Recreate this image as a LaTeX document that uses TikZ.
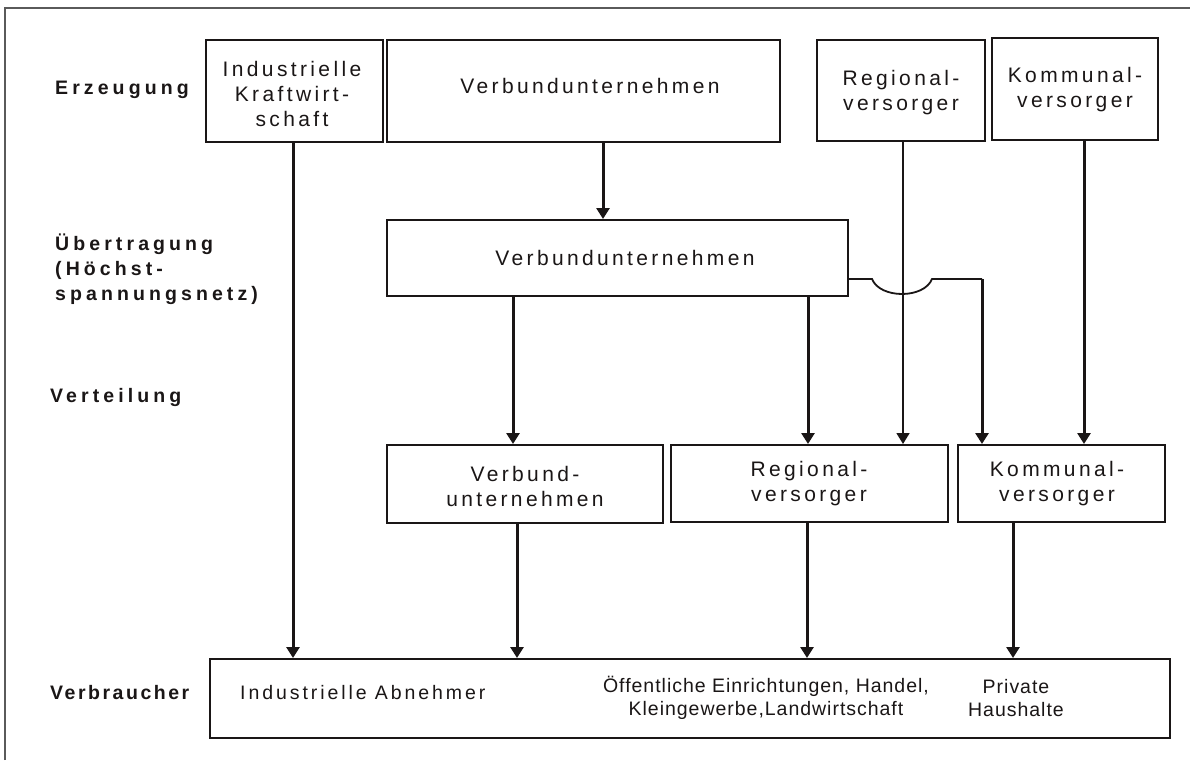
\documentclass[tikz,border=0pt]{standalone}
\usepackage{fontspec}
\setmainfont{Liberation Sans}
\newfontfamily\boxfont[LetterSpace=16]{Liberation Sans}
\newfontfamily\indfont[LetterSpace=15]{Liberation Sans}
\newfontfamily\consfont[LetterSpace=5]{Liberation Sans}
\newfontfamily\lblfont[LetterSpace=21]{Liberation Sans}
\newfontfamily\vbrfont[LetterSpace=13]{Liberation Sans}
\usetikzlibrary{arrows.meta}
\definecolor{ink}{HTML}{1A1616}
\definecolor{framecol}{HTML}{5A5A5A}
\begin{document}
\begin{tikzpicture}[x=1pt,y=-1pt,
  box/.style={draw=ink, line width=2pt, inner sep=0pt},
  btext/.style={inner sep=0pt, align=center, text=ink,
    font=\boxfont\fontsize{21}{25}\selectfont},
  lbl/.style={anchor=west, inner sep=0pt, align=left, text=ink,
    font=\lblfont\bfseries\fontsize{19.5}{25}\selectfont},
  cons/.style={inner sep=0pt, align=center, text=ink,
    font=\consfont\fontsize{19.5}{23.5}\selectfont},
  flow/.style={draw=ink, line width=3pt, -{Triangle[width=13pt,length=11pt]}},
  thinflow/.style={draw=ink, line width=1.6pt, -{Triangle[width=13pt,length=11pt]}},
  jump/.style={draw=ink, line width=1.8pt}
]
\useasboundingbox (0,0) rectangle (1190,760);
\fill[white] (0,0) rectangle (1190,760);
% frame
\draw[framecol, line width=1.5pt] (5,760) -- (5,8) -- (1190,8);

% row labels
\node[lbl] (lErz) at (55,90) {Erzeugung};
\node[lbl] (lUeb) at (55,269) {Übertragung\\(Höchst-\\spannungsnetz)};
\node[lbl] (lVer) at (50,397) {Verteilung};
\node[lbl, font=\vbrfont\bfseries\fontsize{19.5}{25}\selectfont] (lVbr) at (50,693) {Verbraucher};

% Erzeugung
\node[box, minimum width=177pt, minimum height=102pt] (IK) at (294.5,91) {};
\node[btext] (tIK) at (292,94) {Industrielle\\Kraftwirt-\\schaft};
\node[box, minimum width=393pt, minimum height=102pt] (VT) at (583.5,91) {};
\node[btext] (tVT) at (590,86) {Verbundunternehmen};
\node[box, minimum width=168pt, minimum height=101pt] (RT) at (901,90.5) {};
\node[btext] (tRT) at (901,93) {Regional-\\versorger};
\node[box, minimum width=166pt, minimum height=102pt] (KT) at (1075,89) {};
\node[btext] (tKT) at (1075,90) {Kommunal-\\versorger};

% Uebertragung
\node[box, minimum width=461pt, minimum height=76pt] (UE) at (617.5,258) {};
\node[btext] (tUE) at (625,258) {Verbundunternehmen};

% Verteilung
\node[box, minimum width=276pt, minimum height=78pt] (VV) at (525,484) {};
\node[btext] (tVV) at (525,486) {Verbund-\\unternehmen};
\node[box, minimum width=277pt, minimum height=77pt] (RV) at (809.5,483.5) {};
\node[btext] (tRV) at (809,484) {Regional-\\versorger};
\node[box, minimum width=207pt, minimum height=77pt] (KV) at (1061.5,483.5) {};
\node[btext] (tKV) at (1057,484) {Kommunal-\\versorger};

% Verbraucher
\node[box, minimum width=960pt, minimum height=79pt] (VB) at (690,698.5) {};
\node[cons, anchor=west, font=\indfont\fontsize{19.5}{23.5}\selectfont] (cInd) at (240,693) {Industrielle Abnehmer};
\node[cons] (cOef) at (766,698) {Öffentliche Einrichtungen, Handel,\\Kleingewerbe,Landwirtschaft};
\node[cons] (cPri) at (1016,698) {Private\\Haushalte};

% connectors
\draw[flow] (293,0 |- IK.south) -- (293,0 |- VB.north);
\draw[flow] (603,0 |- VT.south) -- (603,0 |- UE.north);
\draw[flow] (513,0 |- UE.south) -- (513,0 |- VV.north);
\draw[flow] (808,0 |- UE.south) -- (808,0 |- RV.north);
\draw[thinflow] (903,0 |- RT.south) -- (903,0 |- RV.north);
\coordinate (j0) at (UE.east |- 0,279);
\coordinate (j1) at (982,279);
\draw[jump] (j0) -- (872,279) .. controls (880,299) and (924,299) .. (932,279) -- (j1);
\draw[flow] (j1) -- (j1 |- KV.north);
\draw[flow] (1084,0 |- KT.south) -- (1084,0 |- KV.north);
\draw[flow] (517,0 |- VV.south) -- (517,0 |- VB.north);
\draw[flow] (807,0 |- RV.south) -- (807,0 |- VB.north);
\draw[flow] (1013,0 |- KV.south) -- (1013,0 |- VB.north);
\end{tikzpicture}
\end{document}
